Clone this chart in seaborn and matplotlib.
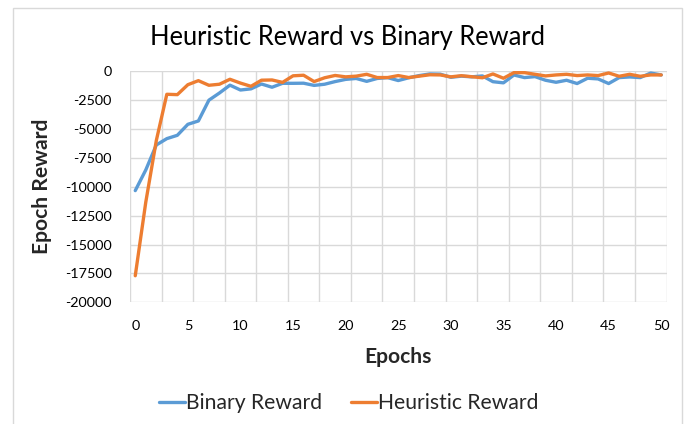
import numpy as np
import pandas as pd
import matplotlib
matplotlib.use("Agg")
import matplotlib.pyplot as plt
import seaborn as sns
from matplotlib.patches import Rectangle
from matplotlib.ticker import MultipleLocator, FixedLocator

epochs = list(range(51))
binary_reward = [-10330, -8540, -6380, -5830, -5540, -4590, -4300, -2500, -1880, -1200,
                 -1620, -1520, -1100, -1380, -1040, -1040, -1030, -1220, -1120, -890,
                 -700, -620, -870, -620, -550, -800, -560, -370, -230, -250,
                 -520, -420, -480, -400, -900, -1000, -320, -545, -460, -775,
                 -950, -775, -1060, -600, -660, -1060, -545, -490, -545, -150,
                 -315]
heuristic_reward = [-17700, -11330, -6000, -1990, -2020, -1160, -810, -1210, -1120, -690,
                    -1020, -1300, -770, -750, -960, -390, -340, -890, -560, -360,
                    -480, -420, -260, -540, -540, -370, -540, -420, -300, -315,
                    -480, -380, -470, -560, -230, -600, -115, -115, -260, -400,
                    -315, -260, -370, -315, -370, -145, -430, -260, -430, -315,
                    -315]
series_names = ["Binary Reward", "Heuristic Reward"]
title = "Heuristic Reward vs Binary Reward"
x_label = "Epochs"
y_label = "Epoch Reward"

df = pd.DataFrame({
    "Epoch": epochs * 2,
    "Reward": binary_reward + heuristic_reward,
    "Series": [series_names[0]] * len(epochs) + [series_names[1]] * len(epochs),
})

sns.set_theme(style="white")
FONT = ["Lato", "DejaVu Sans"]
plt.rcParams["font.family"] = FONT
plt.rcParams["axes.unicode_minus"] = False

W, H = 697, 424
DPI = 100
fig = plt.figure(figsize=(W / DPI, H / DPI), dpi=DPI)
fig.patch.set_facecolor("white")
renderer = fig.canvas.get_renderer()


def fit_size(text, target_px, weight="normal"):
    t = fig.text(0, 0, text, fontsize=10, fontweight=weight)
    w = t.get_window_extent(renderer).width
    t.remove()
    return 10 * target_px / w


title_fs = fit_size(title, 395)
axis_fs = fit_size(x_label, 67, "bold")
ylab_fs = fit_size(y_label, 137, "bold")
lab_fs = (axis_fs + ylab_fs) / 2
tick_fs = fit_size("-20000", 47)
leg_fs = fit_size(series_names[0] + series_names[1], 136 + 161)

# chart border
fig.patches.append(Rectangle((12.5 / W, -0.05), (681.5 - 12.5) / W, 1.05 - 8.5 / H,
                             transform=fig.transFigure, fill=False,
                             edgecolor="#D9D9D9", linewidth=1.0))

left, right, top, bottom = 130, 666.5, 71.3, 302.3
aw, ah = right - left, bottom - top
ax = fig.add_axes([left / W, 1 - bottom / H, aw / W, ah / H])

palette = {series_names[0]: "#5B9BD5", series_names[1]: "#ED7D31"}
sns.lineplot(data=df, x="Epoch", y="Reward", hue="Series", palette=palette,
             linewidth=2.4, ax=ax, legend=True)

ax.set_xlim(-0.5, 50.5)
ax.set_ylim(-20000, 0)
ax.xaxis.set_major_locator(MultipleLocator(5))
ax.xaxis.set_minor_locator(FixedLocator(np.arange(-0.5, 51, 3)))
ax.yaxis.set_major_locator(MultipleLocator(2500))
ax.grid(False)
ax.grid(True, which="minor", axis="x", color="#D9D9D9", linewidth=1.0)
ax.grid(True, which="major", axis="y", color="#D9D9D9", linewidth=1.0)
ax.set_axisbelow(True)
for s in ax.spines.values():
    s.set_visible(False)
ax.tick_params(axis="both", which="both", length=0, labelsize=tick_fs, colors="#000000")
ax.tick_params(axis="x", pad=13.0)
ax.tick_params(axis="y", pad=13.2)

ax.set_xlabel(x_label, fontsize=lab_fs, fontweight="bold")
ax.set_ylabel(y_label, fontsize=lab_fs, fontweight="bold")
ax.xaxis.label.set_va("center")
ax.yaxis.label.set_va("center")
ax.xaxis.set_label_coords(0.5, (bottom - 357) / ah)
ax.yaxis.set_label_coords((42.5 - left) / aw, 0.5)

fig.text(347 / W, 1 - 37 / H, title, ha="center", va="center", fontsize=title_fs, color="#000000")

fs_px = leg_fs * DPI / 72
handles, labels = ax.get_legend_handles_labels()
ax.legend(handles, labels, loc="center", bbox_to_anchor=(348.5 / W, 1 - 403 / H),
          bbox_transform=fig.transFigure, ncol=2, frameon=False, fontsize=leg_fs,
          handlelength=26 / fs_px, handletextpad=1 / fs_px, columnspacing=29 / fs_px,
          borderpad=0, borderaxespad=0)

fig.savefig("out.png", dpi=DPI, facecolor="white")
